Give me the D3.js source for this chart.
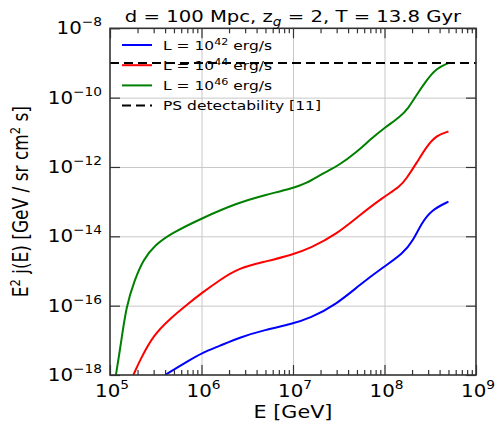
<!DOCTYPE html>
<html>
<head>
<meta charset="utf-8">
<script src="https://cdn.jsdelivr.net/npm/d3@7"></script>
<style>
  html, body { margin: 0; padding: 0; background: #fff; }
  svg { display: block; }
  text { font-family: "DejaVu Sans", sans-serif; fill: #000; }
</style>
</head>
<body>
<svg id="chart" width="495" height="423"></svg>
<script>
// ---- data ----
const titleText = ["d = 100 Mpc, z", "g", " = 2, T = 13.8 Gyr"];
const xTickExps = [5, 6, 7, 8, 9];
const yTickExps = [-8, -10, -12, -14, -16, -18];

const energyL42 = [3.98e5, 6.89e5, 1.0e6, 1.58e6, 2.63e6, 4.94e6, 9.66e6, 1.53e7, 3.0e7, 5.37e7, 9.7e7, 1.6e8, 2.07e8, 2.54e8, 3.27e8, 5.0e8];
const fluxL42   = [1e-18, 2.4e-18, 4.3e-18, 6.9e-18, 1.23e-17, 2.0e-17, 2.95e-17, 4.3e-17, 1.1e-16, 4.0e-16, 1.29e-15, 3.2e-15, 7.8e-15, 2.4e-14, 5.8e-14, 1.0e-13];

const energyL44 = [1.8e5, 2.13e5, 2.97e5, 4.53e5, 6.89e5, 1.0e6, 1.59e6, 2.5e6, 4.94e6, 9.66e6, 1.53e7, 3.0e7, 5.37e7, 9.7e7, 1.48e8, 1.74e8, 2.24e8, 2.88e8, 3.72e8, 5.0e8];
const fluxL44   = [1e-18, 2.7e-18, 1.4e-17, 4.2e-17, 1.05e-16, 2.3e-16, 5.5e-16, 1.2e-15, 1.86e-15, 2.9e-15, 4.5e-15, 1.15e-14, 4.1e-14, 1.35e-13, 2.7e-13, 4.7e-13, 1.29e-12, 3.9e-12, 8.3e-12, 1.05e-11];

const energyL46 = [1.16e5, 1.285e5, 1.51e5, 1.86e5, 2.3e5, 3.09e5, 4.72e5, 1.0e6, 2.5e6, 4.94e6, 9.66e6, 1.41e7, 2.04e7, 3.24e7, 5.0e7, 6.9e7, 1.01e8, 1.48e8, 1.82e8, 2.24e8, 2.88e8, 3.72e8, 5.0e8];
const fluxL46   = [1e-18, 5.2e-18, 1.05e-16, 5.5e-16, 2.1e-15, 5.6e-15, 1.23e-14, 3.3e-14, 9.3e-14, 1.55e-13, 2.4e-13, 3.4e-13, 6.2e-13, 1.15e-12, 2.75e-12, 6.0e-12, 1.38e-11, 2.8e-11, 4.9e-11, 1.2e-10, 3.2e-10, 7.1e-10, 1.0e-9];

const energyPS = [1e5, 1e9];
const fluxPS   = [1e-9, 1e-9];

const seriesNames = [["L = 10", "42", " erg/s"], ["L = 10", "44", " erg/s"], ["L = 10", "46", " erg/s"], ["PS detectability [11]"]];
const seriesColors = ["#0000ff", "#ff0000", "#008000", "#000000"];

// ---- layout ----
const svg = d3.select("#chart");
const L = 110, R = 476, T = 28.3, B = 375;
const x = d3.scaleLog().domain([1e5, 1e9]).range([L, R]);
const y = d3.scaleLog().domain([1e-18, 1e-8]).range([B, T]);

// text helper: horizontally stretched text (reference image is stretched)
function stext(px, py, size, sx, anchor, rot) {
  const tr = `translate(${px},${py})` + (rot ? ` rotate(${rot})` : "") + ` scale(${rot ? 1 : sx},${rot ? sx : 1})`;
  return svg.append("text").attr("transform", tr).attr("text-anchor", anchor).attr("font-size", size);
}

// grid
const gridX = [1e6, 1e7, 1e8];
const gridY = [1e-10, 1e-12, 1e-14, 1e-16];
svg.append("g").attr("transform", `translate(0,${B})`)
  .call(d3.axisBottom(x).tickValues(gridX).tickSize(-(B - T)).tickFormat(""))
  .call(g => { g.select(".domain").remove(); g.selectAll("line").attr("stroke", "#c8c8c8").attr("stroke-width", 1); });
svg.append("g").attr("transform", `translate(${L},0)`)
  .call(d3.axisLeft(y).tickValues(gridY).tickSize(-(R - L)).tickFormat(""))
  .call(g => { g.select(".domain").remove(); g.selectAll("line").attr("stroke", "#c8c8c8").attr("stroke-width", 1); });

// clip
svg.append("clipPath").attr("id", "clip").append("rect")
  .attr("x", L).attr("y", T).attr("width", R - L).attr("height", B - T);

const line = d3.line().x(d => x(d[0])).y(d => y(d[1])).curve(d3.curveBasis);
const curves = [
  [energyL42, fluxL42],
  [energyL44, fluxL44],
  [energyL46, fluxL46]
];
const plot = svg.append("g").attr("clip-path", "url(#clip)");
curves.forEach((c, i) => {
  const pts = c[0].map((e, k) => [e, c[1][k]]);
  plot.append("path").attr("d", line(pts)).attr("fill", "none")
    .attr("stroke", seriesColors[i]).attr("stroke-width", 2);
});

// legend
const legX1 = 122, legX2 = 152, legTX = 163, legY0 = 45, legDY = 20.2;
seriesNames.forEach((nm, i) => {
  const yy = legY0 + i * legDY;
  svg.append("line").attr("x1", legX1).attr("x2", legX2).attr("y1", yy).attr("y2", yy)
    .attr("stroke", seriesColors[i]).attr("stroke-width", 2)
    .attr("stroke-dasharray", i === 3 ? "9,5" : null);
  const t = stext(legTX, yy + 4.5, 12.5, 1.24, "start");
  t.append("tspan").text(nm[0]);
  if (nm.length > 1) {
    t.append("tspan").attr("dy", -5).attr("font-size", 9).text(nm[1]);
    t.append("tspan").attr("dy", 5).text(nm[2]);
  }
});

// PS detectability line (drawn above legend)
plot.append("path").attr("d", d3.line().x(d => x(d[0])).y(d => y(d[1])).curve(d3.curveLinear)(energyPS.map((e, k) => [e, fluxPS[k]])))
  .attr("fill", "none").attr("stroke", "#000").attr("stroke-width", 2).attr("stroke-dasharray", "9,5");

// axes ticks
const majorX = xTickExps.map(e => Math.pow(10, e));
const minorX = [];
for (let e = 5; e < 9; e++) for (let m = 2; m <= 9; m++) minorX.push(m * Math.pow(10, e));
const majorY = yTickExps.map(e => Math.pow(10, e));
const axisColor = "#333";
function styleAxis(g) { g.select(".domain").remove(); g.selectAll("line").attr("stroke", axisColor).attr("stroke-width", 1.2); }

svg.append("g").attr("transform", `translate(0,${B})`).call(d3.axisBottom(x).tickValues(majorX).tickSize(-10).tickFormat("")).call(styleAxis);
svg.append("g").attr("transform", `translate(0,${B})`).call(d3.axisBottom(x).tickValues(minorX).tickSize(-5).tickFormat("")).call(styleAxis);
svg.append("g").attr("transform", `translate(0,${T})`).call(d3.axisTop(x).tickValues(majorX).tickSize(-10).tickFormat("")).call(styleAxis);
svg.append("g").attr("transform", `translate(0,${T})`).call(d3.axisTop(x).tickValues(minorX).tickSize(-5).tickFormat("")).call(styleAxis);
svg.append("g").attr("transform", `translate(${L},0)`).call(d3.axisLeft(y).tickValues(majorY).tickSize(-10).tickFormat("")).call(styleAxis);
svg.append("g").attr("transform", `translate(${R},0)`).call(d3.axisRight(y).tickValues(majorY).tickSize(-10).tickFormat("")).call(styleAxis);

// frame
svg.append("rect").attr("x", L).attr("y", T).attr("width", R - L).attr("height", B - T)
  .attr("fill", "none").attr("stroke", axisColor).attr("stroke-width", 1.6);

// tick labels
xTickExps.forEach(e => {
  const t = stext(x(Math.pow(10, e)) + 2, 397, 18, 1.1, "middle");
  t.append("tspan").text("10");
  t.append("tspan").attr("dy", -8).attr("font-size", 12.5).text(String(e));
});
yTickExps.forEach(e => {
  const t = stext(102, y(Math.pow(10, e)) + 6, 18, 1.1, "end");
  t.append("tspan").text("10");
  t.append("tspan").attr("dy", -8).attr("font-size", 12.5).text("\u2212" + String(-e));
});

// axis labels
stext((L + R) / 2, 418, 17, 1.22, "middle").text("E [GeV]");
const yl = stext(28, (T + B) / 2, 17, 1.2, "middle", -90);
yl.append("tspan").text("E");
yl.append("tspan").attr("dy", -7).attr("font-size", 11.5).text("2");
yl.append("tspan").attr("dy", 7).text(" j(E) [GeV / sr cm");
yl.append("tspan").attr("dy", -7).attr("font-size", 11.5).text("2");
yl.append("tspan").attr("dy", 7).text(" s]");

// title
const tt = stext((L + R) / 2, 21.5, 16.5, 1.19, "middle");
tt.append("tspan").text(titleText[0]);
tt.append("tspan").attr("dy", 4).attr("font-size", 11.5).attr("font-style", "italic").text(titleText[1]);
tt.append("tspan").attr("dy", -4).text(titleText[2]);
</script>
</body>
</html>
